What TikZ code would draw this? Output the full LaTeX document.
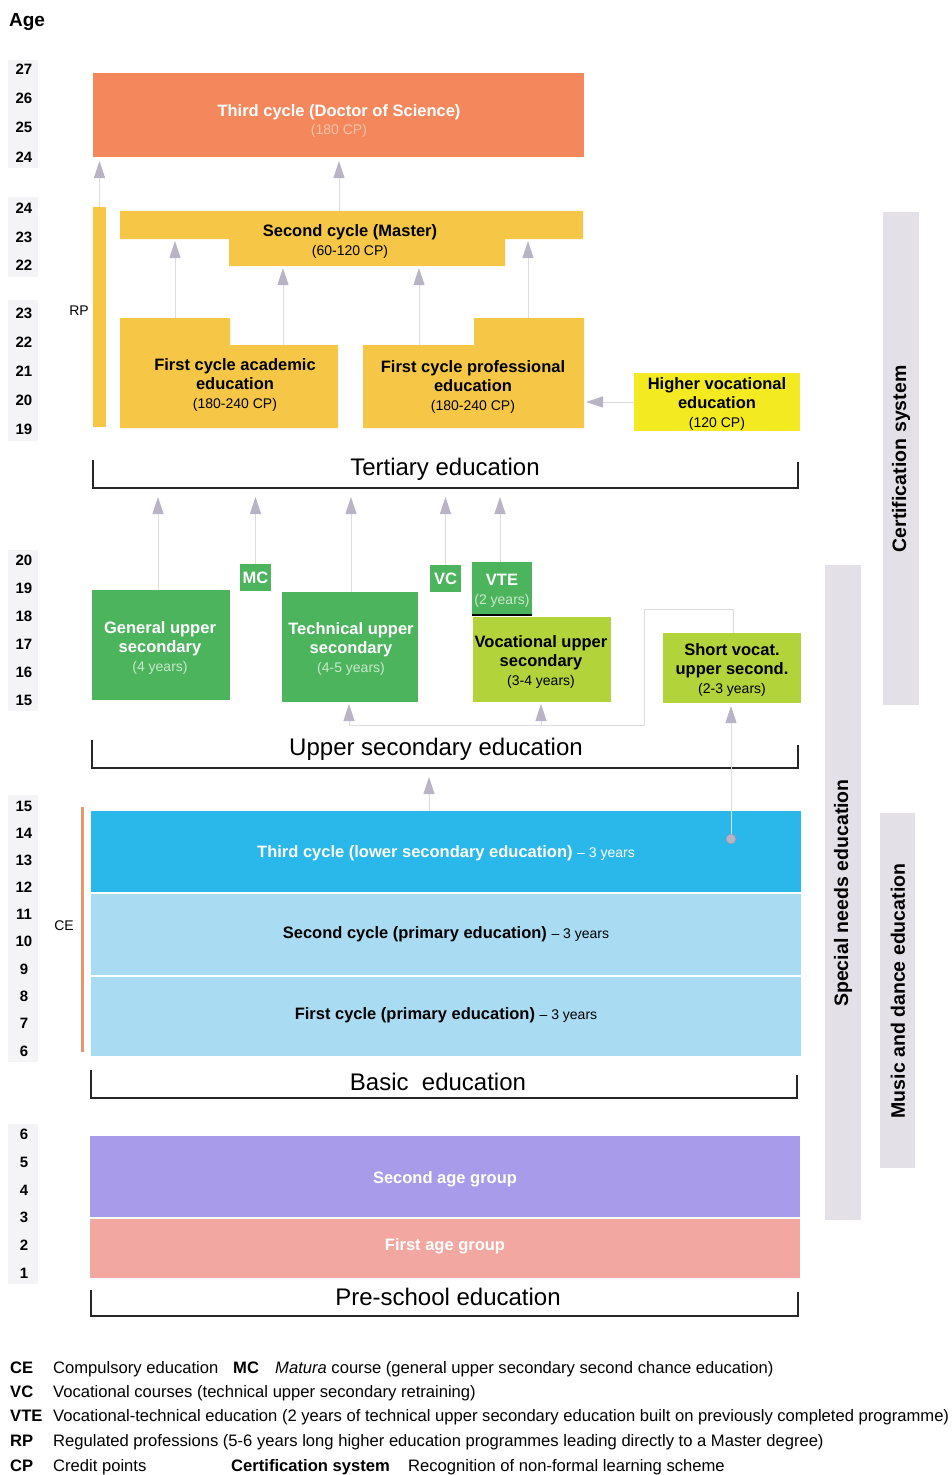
\documentclass[tikz,border=0pt]{standalone}
\usepackage{fontspec}
\setmainfont{Liberation Sans}
\usetikzlibrary{arrows.meta}
\definecolor{cOrange}{HTML}{F4885C}
\definecolor{cOrLt}{HTML}{F9C2A8}
\definecolor{cYellow}{HTML}{F6C746}
\definecolor{cHiVoc}{HTML}{F3EA22}
\definecolor{cGreen}{HTML}{4DB45E}
\definecolor{cGrLt}{HTML}{C9E8CC}
\definecolor{cLime}{HTML}{B3D33A}
\definecolor{cCyan}{HTML}{2AB7EA}
\definecolor{cLtBlue}{HTML}{A9DCF2}
\definecolor{cLav}{HTML}{A89CEA}
\definecolor{cPink}{HTML}{F3A7A1}
\definecolor{cBar}{HTML}{E3E1E7}
\definecolor{cTip}{HTML}{B9B3C6}
\definecolor{cLine}{HTML}{DCDCE2}
\definecolor{cCE}{HTML}{E9966C}
\definecolor{cAgeBg}{HTML}{F4F4F6}
\newcommand{\fsz}[2]{\fontsize{#1}{#2}\selectfont}
\begin{document}
\begin{tikzpicture}[x=1pt,y=-1pt,
  blk/.style={inner sep=0pt, outer sep=0pt, anchor=north west},
  btxt/.style={font=\fsz{16.5}{19}\bfseries, align=center, inner sep=0pt},
  arr/.style={draw=cLine, line width=0.8pt, -{Triangle[width=11pt,length=17pt,color=cTip]}},
  brk/.style={line width=2pt, draw=black!85},
  brktxt/.style={font=\fsz{24}{27}, inner sep=0pt},
  age/.style={font=\fsz{15}{17}\bfseries, inner sep=0pt},
  vbar/.style={fill=cBar, inner sep=0pt, outer sep=0pt, anchor=north west},
  vtxt/.style={font=\fsz{19.5}{22}\bfseries, rotate=90, inner sep=0pt},
  leg/.style={font=\fsz{16.6}{19}, anchor=base west, inner sep=0pt},
  legb/.style={font=\fsz{16.6}{19}\bfseries, anchor=base west, inner sep=0pt},
  thinln/.style={draw=cLine, line width=0.8pt}
]
\useasboundingbox[fill=white] (0,0) rectangle (951,1475);

% ---------- age column ----------
\node[font=\fsz{19}{21}\bfseries, inner sep=0pt] (agehdr) at (27,22) {Age};
\foreach \ya/\yb in {60/168, 197/277, 300/441, 550/711, 795/1062, 1124/1284}
  \fill[cAgeBg] (8,\ya) rectangle (38,\yb);
\foreach \n/\y in {27/69, 26/98, 25/127, 24/157,
                   24/208, 23/237, 22/265,
                   23/313, 22/342, 21/371, 20/400, 19/429,
                   20/560, 19/588, 18/616, 17/644, 16/672, 15/700,
                   15/806, 14/833, 13/860, 12/887, 11/914, 10/941, 9/969, 8/996, 7/1023, 6/1051,
                   6/1134, 5/1162, 4/1190, 3/1217, 2/1245, 1/1273}
  \node[age] at (24,\y) {\n};

% ---------- right vertical bars ----------
\node[vbar, minimum width=36, minimum height=493] (cert) at (883,212) {};
\node[vtxt] (certt) at (901,459) {Certification\hspace{6pt}system};
\node[vbar, minimum width=36, minimum height=655] (spec) at (825,565) {};
\node[vtxt] (spect) at (843,893) {Special needs education};
\node[vbar, minimum width=35, minimum height=355] (music) at (880,813) {};
\node[vtxt] (musict) at (898,991) {Music and dance education};

% ---------- tertiary ----------
\node[blk, fill=cOrange, minimum width=491, minimum height=84] (doc) at (93,73) {};
\node[btxt, text=white] (doct) at (339,121) {Third cycle (Doctor of Science)\\[-1pt]{\fsz{14}{17}\mdseries\color{cOrLt}(180 CP)}};

\node[blk, fill=cYellow, minimum width=13, minimum height=220] (rp) at (93,207) {};
\node[font=\fsz{14}{16}, inner sep=0pt] (rpl) at (79,311) {RP};

\fill[cYellow] (120,211) -- (583,211) -- (583,239) -- (505,239) -- (505,266)
  -- (229,266) -- (229,239) -- (120,239) -- cycle;
\node[btxt] (sc) at (350,241) {Second cycle (Master)\\{\fsz{14}{17}\mdseries(60-120 CP)}};

\fill[cYellow] (120,318) -- (230,318) -- (230,345) -- (338,345) -- (338,428) -- (120,428) -- cycle;
\node[btxt] (fca) at (235,385) {First cycle academic\\education\\{\fsz{14}{17}\mdseries(180-240 CP)}};

\fill[cYellow] (363,345) -- (474,345) -- (474,318) -- (584,318) -- (584,428) -- (363,428) -- cycle;
\node[btxt] (fcp) at (473,387) {First cycle professional\\education\\{\fsz{14}{17}\mdseries(180-240 CP)}};

\node[blk, fill=cHiVoc, minimum width=166, minimum height=58] (hv) at (634,373) {};
\node[btxt] (hvt) at (717,404) {Higher vocational\\education\\{\fsz{14}{17}\mdseries(120 CP)}};

% arrows in tertiary
\coordinate (tipD) at (0,161);
\coordinate (scTop) at (339,211);
\draw[arr] (rp.north) -- (rp.north |- tipD);
\draw[arr] (scTop) -- (scTop |- tipD);
\coordinate (fcaTopA) at (175,318);
\coordinate (fcaTopB) at (283,345);
\coordinate (fcpTopA) at (419,345);
\coordinate (fcpTopB) at (528,318);
\coordinate (tipS1) at (0,241);
\coordinate (tipS2) at (0,268);
\draw[arr] (fcaTopA) -- (fcaTopA |- tipS1);
\draw[arr] (fcaTopB) -- (fcaTopB |- tipS2);
\draw[arr] (fcpTopA) -- (fcpTopA |- tipS2);
\draw[arr] (fcpTopB) -- (fcpTopB |- tipS1);
\coordinate (fcpR) at (586,402);
\draw[arr] (hv.west |- fcpR) -- (fcpR);

% tertiary bracket
\draw[brk] (93,460) |- (798,488) -- (798,462);
\node[brktxt] (tert) at (445,469) {Tertiary education};

% ---------- upper secondary ----------
\node[blk, fill=cGreen, minimum width=31, minimum height=27] (mc) at (240,564) {};
\node[btxt, text=white] at (mc.center) {MC};
\node[blk, fill=cGreen, minimum width=31, minimum height=27] (vc) at (430,565) {};
\node[btxt, text=white] at (vc.center) {VC};
\node[blk, fill=cGreen, minimum width=60, minimum height=53] (vte) at (472,562) {};
\node[btxt, text=white] at (502,591) {VTE\\{\fsz{14}{17}\mdseries\color{cGrLt}(2 years)}};
\draw[line width=1.6pt, black] (vte.south west) -- (vte.south east);

\node[blk, fill=cGreen, minimum width=138, minimum height=110] (gus) at (92,590) {};
\node[btxt, text=white] at (160,648) {General upper\\secondary\\{\fsz{14}{17}\mdseries\color{cGrLt}(4 years)}};
\node[blk, fill=cGreen, minimum width=136, minimum height=110] (tus) at (282,592) {};
\node[btxt, text=white] at (351,649) {Technical upper\\secondary\\{\fsz{14}{17}\mdseries\color{cGrLt}(4-5 years)}};
\node[blk, fill=cLime, minimum width=138, minimum height=85] (vus) at (473,617) {};
\node[btxt] at (541,662) {Vocational upper\\secondary\\{\fsz{14}{17}\mdseries(3-4 years)}};
\node[blk, fill=cLime, minimum width=138, minimum height=70] (svus) at (663,633) {};
\node[btxt] at (732,670) {Short vocat.\\upper second.\\{\fsz{14}{17}\mdseries(2-3 years)}};

% arrows into tertiary bracket
\coordinate (tipT) at (0,497);
\coordinate (gusTop) at (158,590);
\coordinate (tusTop) at (351,592);
\coordinate (vteTop) at (500,562);
\draw[arr] (gusTop) -- (gusTop |- tipT);
\draw[arr] (mc.north) -- (mc.north |- tipT);
\draw[arr] (tusTop) -- (tusTop |- tipT);
\draw[arr] (vc.north) -- (vc.north |- tipT);
\draw[arr] (vteTop) -- (vteTop |- tipT);

% thin connector and arrows into upper secondary
\coordinate (base1) at (349,725);
\coordinate (base2) at (541,725);
\coordinate (tipU) at (0,704);
\draw[thinln] (base1) -- (644,725) -- (644,609) -- (733,609) -- (733,633);
\draw[arr] (base1) -- (base1 |- tipU);
\draw[arr] (base2) -- (base2 |- tipU);

% upper secondary bracket
\draw[brk] (92,740) |- (798,768) -- (798,745);
\node[brktxt] (usec) at (436,749) {Upper secondary education};

% ---------- basic ----------
\node[blk, fill=cCyan, minimum width=710, minimum height=81] (lsec) at (91,811) {};
\node[font=\fsz{16.5}{19}\bfseries, text=white, inner sep=0pt] at (446,853) {Third cycle (lower secondary education) {\mdseries\fsz{14}{16}-- 3 years}};
\node[blk, fill=cLtBlue, minimum width=710, minimum height=81] (prim2) at (91,894) {};
\node[font=\fsz{16.5}{19}\bfseries, inner sep=0pt] at (446,934) {Second cycle (primary education) {\mdseries\fsz{14}{16}-- 3 years}};
\node[blk, fill=cLtBlue, minimum width=710, minimum height=79] (prim1) at (91,977) {};
\node[font=\fsz{16.5}{19}\bfseries, inner sep=0pt] at (446,1015) {First cycle (primary education) {\mdseries\fsz{14}{16}-- 3 years}};

\node[circle, fill=cTip, draw=cTip!80!black, line width=0.3pt, minimum size=10, inner sep=0pt] (dot) at (731,839) {};
\coordinate (tipSV) at (0,706);
\draw[arr] (dot.north) -- (dot.north |- tipSV);
\coordinate (lsTop) at (429,811);
\draw[arr] (lsTop) -- (429,777);

\draw[cCE, line width=3pt] (82,807) -- (82,1052);
\node[font=\fsz{14}{16}, inner sep=0pt] (cel) at (64,926) {CE};

% basic bracket
\draw[brk] (91,1070) |- (797,1098) -- (797,1075);
\node[brktxt] (basic) at (438,1082) {Basic\ \ education};

% ---------- pre-school ----------
\node[blk, fill=cLav, minimum width=710, minimum height=81] (age2) at (90,1136) {};
\node[font=\fsz{16.5}{19}\bfseries, text=white, inner sep=0pt] at (445,1179) {Second age group};
\node[blk, fill=cPink, minimum width=710, minimum height=59] (age1) at (90,1219) {};
\node[font=\fsz{16.5}{19}\bfseries, text=white, inner sep=0pt] at (445,1246) {First age group};

\draw[brk] (91,1290) |- (798,1316) -- (798,1292);
\node[brktxt] (pre) at (448,1297) {Pre-school education};

% ---------- legend ----------
\node[legb] at (10,1373) {CE};
\node[leg] at (53,1373) {Compulsory education};
\node[legb] at (233,1373) {MC};
\node[leg] at (275,1373) {\textit{Matura} course (general upper secondary second chance education)};
\node[legb] at (10,1397) {VC};
\node[leg] at (53,1397) {Vocational courses (technical upper secondary retraining)};
\node[legb] at (10,1421) {VTE};
\node[leg] at (53,1421) {Vocational-technical education (2 years of technical upper secondary education built on previously completed programme)};
\node[legb] at (10,1446) {RP};
\node[leg] at (53,1446) {Regulated professions (5-6 years long higher education programmes leading directly to a Master degree)};
\node[legb] at (10,1471) {CP};
\node[leg] at (53,1471) {Credit points};
\node[legb] at (231,1471) {Certification system};
\node[leg] at (408,1471) {Recognition of non-formal learning scheme};
\end{tikzpicture}
\end{document}
